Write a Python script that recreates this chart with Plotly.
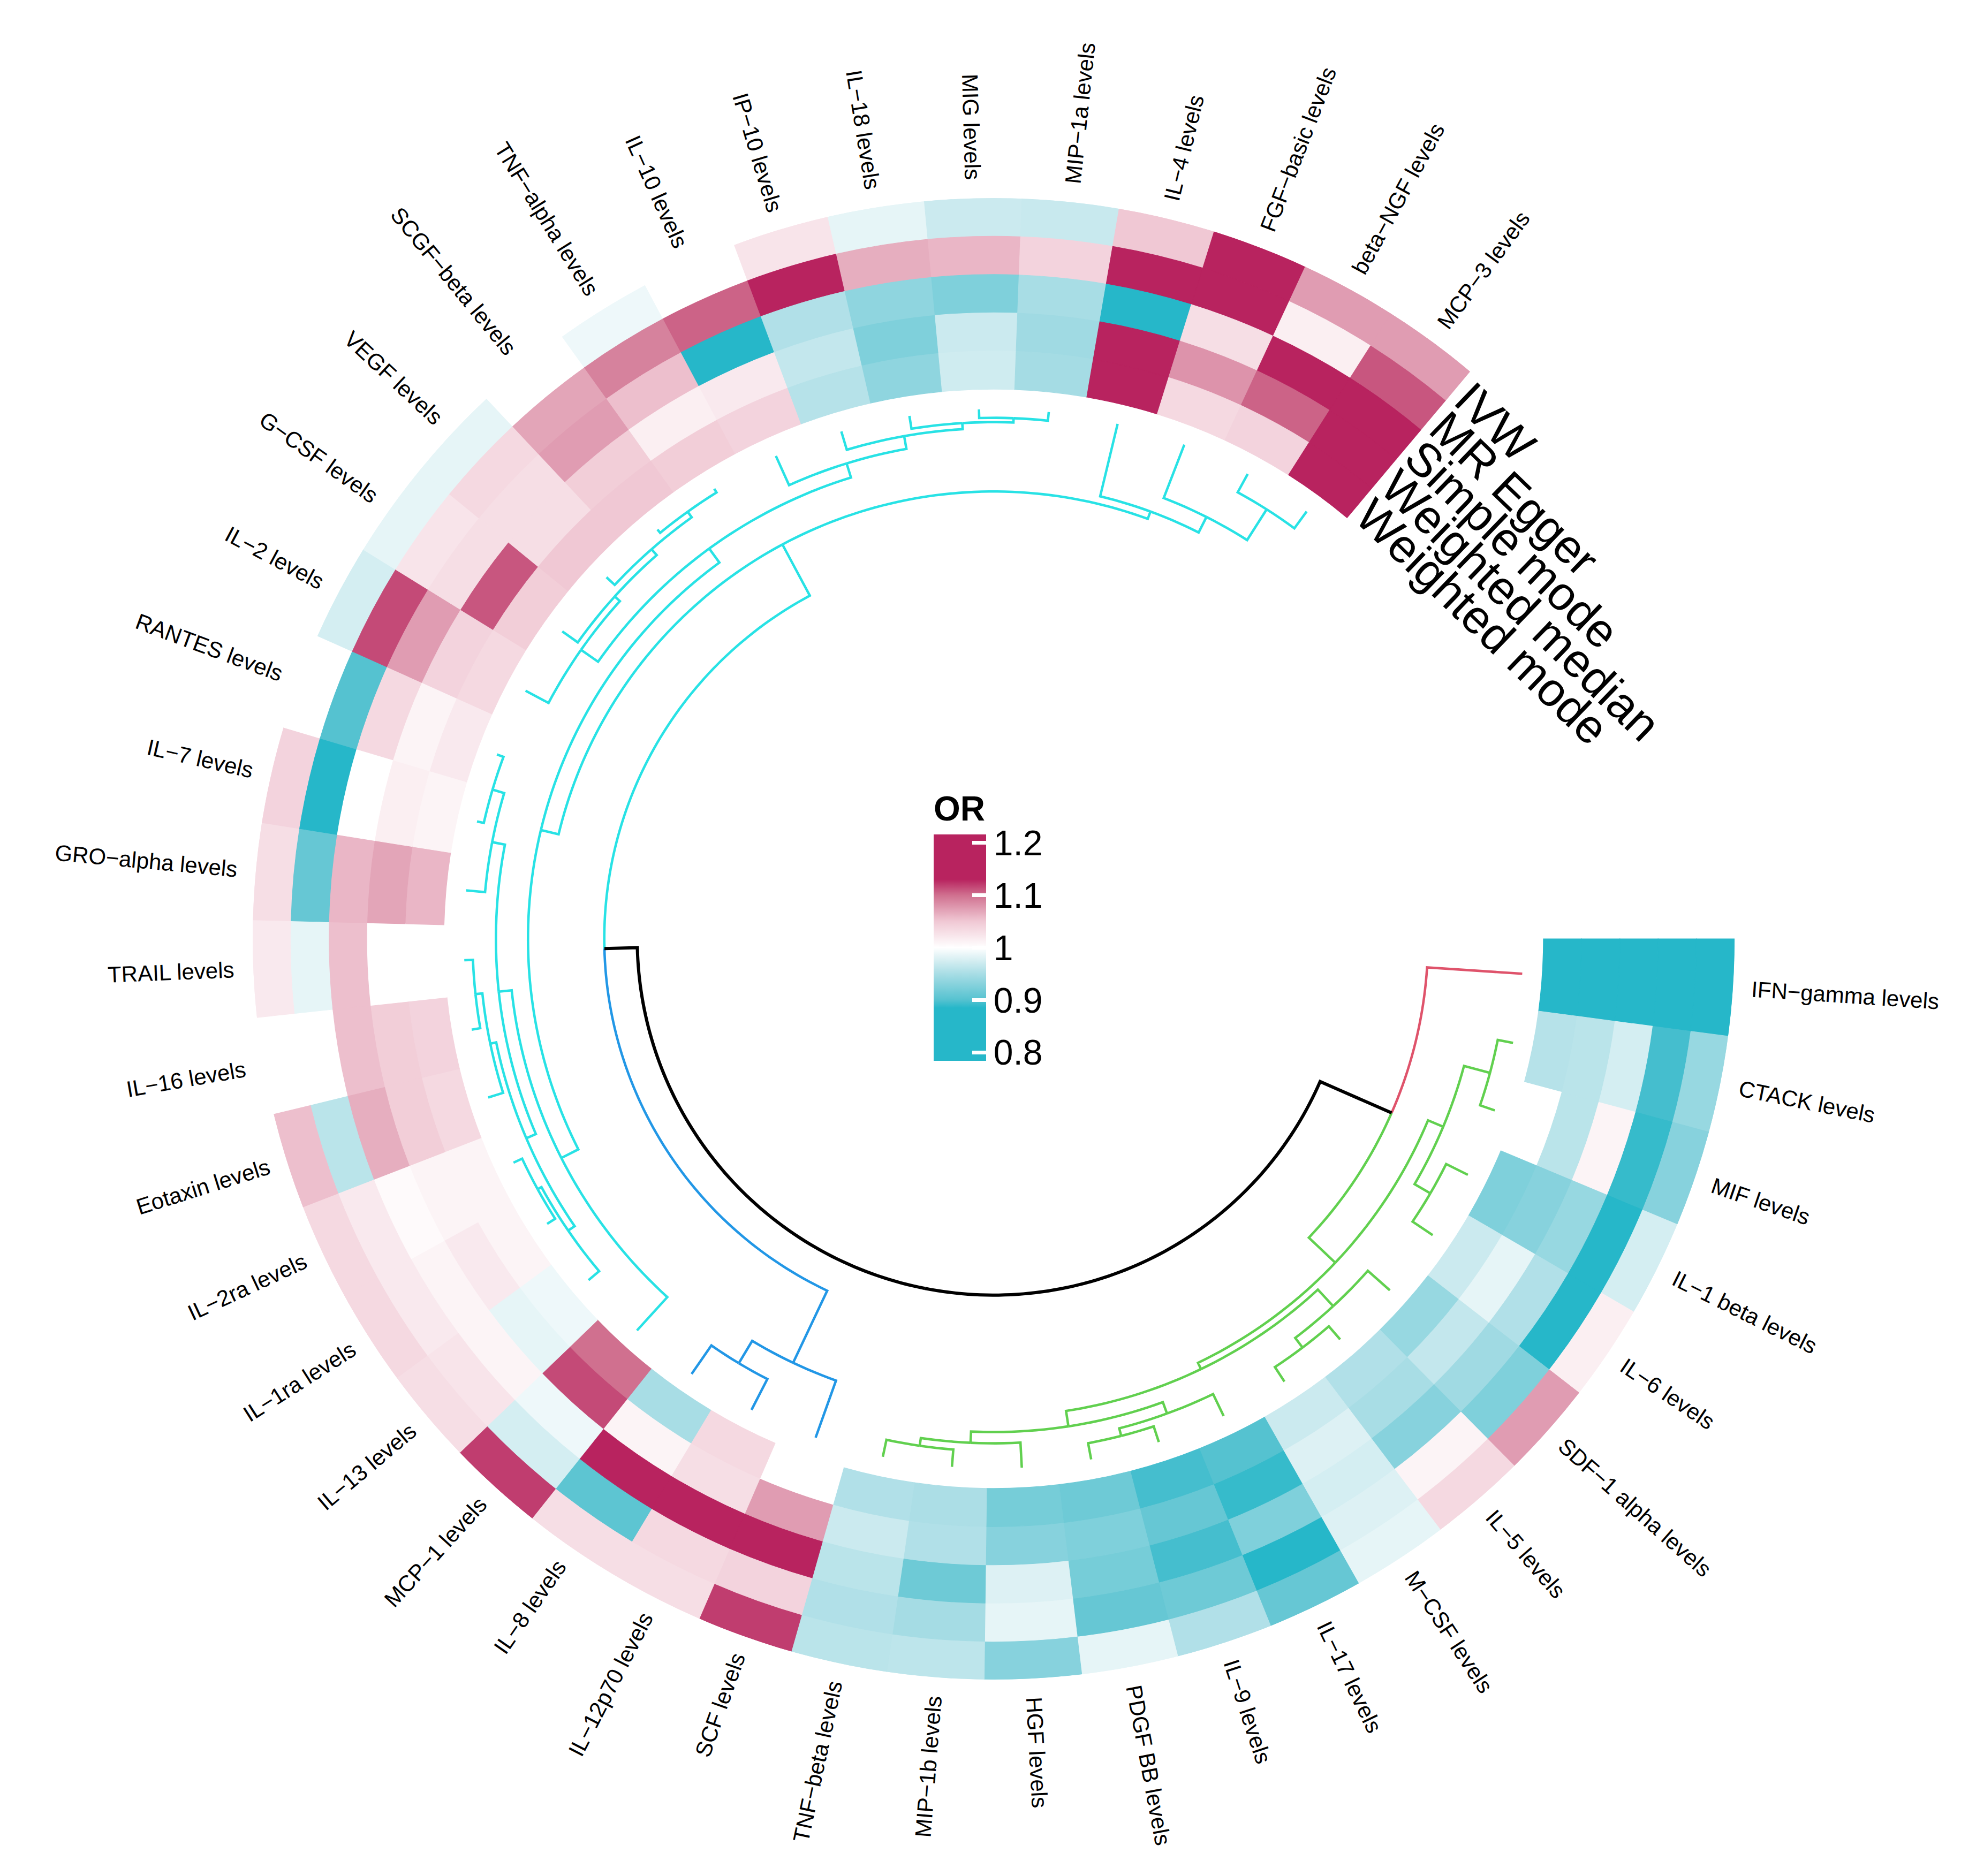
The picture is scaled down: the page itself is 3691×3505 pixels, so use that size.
import numpy as np
import plotly.graph_objects as go

# ---- data -------------------------------------------------------------
cytokines = ["IFN-gamma", "CTACK", "MIF", "IL-1 beta", "IL-6", "SDF-1 alpha", "IL-5", "M-CSF",
             "IL-17", "IL-9", "PDGF BB", "HGF", "MIP-1b", "TNF-beta", "SCF", "IL-12p70", "IL-8",
             "MCP-1", "IL-13", "IL-1ra", "IL-2ra", "Eotaxin", "IL-16", "TRAIL", "GRO-alpha", "IL-7",
             "RANTES", "IL-2", "G-CSF", "VEGF", "SCGF-beta", "TNF-alpha", "IL-10", "IP-10", "IL-18",
             "MIG", "MIP-1a", "IL-4", "FGF-basic", "beta-NGF", "MCP-3"]
methods = ["IVW", "MR Egger", "Simple mode", "Weighted median", "Weighted mode"]

or_ivw = [0.82, 0.94, 0.93, 0.975, 1.015, 1.075, 1.035, 0.985, 0.91, 0.955, 0.985, 0.93, 0.962, 0.96,
          1.12, 1.03, 1.03, 1.12, 1.03, 1.035, 1.035, 1.055, 1.0, 1.02, 1.03, 1.04, 1.0, 0.975, 0.985,
          0.985, 1.0, 0.99, 1.0, 1.025, 0.985, 0.97, 0.968, 1.05, 1.17, 1.075, 1.075]
or_egger = [0.75, 0.895, 0.89, 0.85, 0.86, 0.925, 1.01, 0.98, 0.86, 0.915, 0.91, 0.985, 0.948, 0.955,
            1.04, 1.035, 0.905, 0.975, 1.025, 1.02, 1.02, 0.96, 1.0, 0.985, 0.91, 0.85, 0.9, 1.115,
            1.025, 1.035, 1.07, 1.09, 1.105, 1.13, 1.065, 1.06, 1.04, 1.16, 1.16, 1.015, 1.11]
or_simple = [0.80, 0.975, 1.01, 0.94, 0.955, 0.945, 0.93, 0.975, 0.925, 0.895, 0.92, 0.98, 0.915, 0.96,
             1.16, 1.16, 1.16, 0.99, 1.01, 1.01, 1.005, 1.065, 1.055, 1.055, 1.06, 1.0, 1.035, 1.075,
             1.03, 1.03, 1.075, 1.055, 0.85, 0.955, 0.935, 0.925, 0.95, 0.85, 1.03, 1.13, 1.16]
or_wmedian = [0.83, 0.96, 0.96, 0.93, 0.985, 0.965, 0.95, 0.98, 0.89, 0.91, 0.925, 0.93, 0.955, 0.97,
              1.075, 1.03, 1.01, 1.115, 0.985, 1.02, 1.01, 1.045, 1.045, 1.0, 1.07, 1.015, 1.01, 1.04,
              1.11, 1.03, 1.045, 1.015, 1.02, 0.965, 0.925, 0.97, 0.945, 1.16, 1.08, 1.105, 1.16]
or_wmode = [0.81, 0.958, 1.0, 0.925, 0.97, 0.94, 0.955, 0.97, 0.9, 0.895, 0.915, 0.92, 0.952, 0.955,
            1.0, 1.035, 0.95, 1.10, 0.99, 1.01, 1.01, 1.035, 1.04, 1.0, 1.06, 1.01, 1.02, 1.035,
            1.045, 1.05, 1.05, 1.045, 1.04, 0.958, 0.935, 0.972, 0.948, 1.15, 1.035, 1.04, 1.15]

# dendrogram merges: (node, left child, right child, height)
merges = [
    ("A1", "CTACK", "MIF", 0.09), ("A2", "IL-1 beta", "IL-6", 0.14), ("A", "A1", "A2", 0.245),
    ("B1a", "IL-5", "M-CSF", 0.10), ("B1", "SDF-1 alpha", "B1a", 0.17),
    ("G", "IL-9", "PDGF BB", 0.095), ("F", "IL-17", "G", 0.14),
    ("Cb", "MIP-1b", "TNF-beta", 0.10), ("C", "HGF", "Cb", 0.145), ("B2", "F", "C", 0.21),
    ("B", "B1", "B2", 0.30), ("GR", "A", "B", 0.34), ("RG", "IFN-gamma", "GR", 0.55),
    ("BLa", "IL-12p70", "IL-8", 0.20), ("BL", "SCF", "BLa", 0.35),
    ("Q1", "IL-1ra", "IL-2ra", 0.055), ("Q2", "IL-13", "Q1", 0.08),
    ("Pd", "IL-16", "TRAIL", 0.05), ("Pe", "Eotaxin", "Pd", 0.09), ("Q3", "Q2", "Pe", 0.125),
    ("Pa", "IL-7", "RANTES", 0.04), ("Pb", "GRO-alpha", "Pa", 0.11), ("L1b", "Q3", "Pb", 0.185),
    ("L1", "MCP-1", "L1b", 0.26),
    ("N1", "SCGF-beta", "TNF-alpha", 0.025), ("N2", "VEGF", "N1", 0.065), ("X", "G-CSF", "N2", 0.11),
    ("N4", "IL-2", "X", 0.15),
    ("M0", "MIG", "MIP-1a", 0.05), ("M1", "IL-18", "M0", 0.075), ("M2", "IP-10", "M1", 0.11),
    ("M3", "IL-10", "M2", 0.185), ("M4", "N4", "M3", 0.27), ("L", "L1", "M4", 0.37),
    ("H1", "beta-NGF", "MCP-3", 0.12), ("H", "FGF-basic", "H1", 0.33), ("I", "IL-4", "H", 0.43),
    ("J", "L", "I", 0.475), ("CB", "BL", "J", 0.81), ("root", "RG", "CB", 1.0),
]
clusters = {"IFN-gamma": "#DF536B", "GR": "#61D04F", "BL": "#2297E6", "J": "#28E2E5"}

# ---- geometry / style ---------------------------------------------------
W_FIG, H_FIG = 3691, 3505
CX, CY, R_PX = 1848, 1746, 1384
X0, X1 = (CX - R_PX) / W_FIG, (CX + R_PX) / W_FIG
Y0, Y1 = (H_FIG - CY - R_PX) / H_FIG, (H_FIG - CY + R_PX) / H_FIG

GAP = 50.0
STEP = (360 - GAP) / len(cytokines)
R_OUT, R_IN = 1.0, 0.742
RING = (R_OUT - R_IN) / len(methods)
R_LEAF, R_ROOT = 0.715, 0.481
R_LAB = 1.025
FONT = "Liberation Sans, Arial, sans-serif"


def ang(x):
    return (x - 0.5) * STEP


def rad(h):
    return R_LEAF - h * (R_LEAF - R_ROOT)


# Helvetica widths (per 1000 em) for centring rotated labels
CW = {" ": 278, ".": 278, "-": 333, "\u2212": 584}
for chars, w in [("abdeghnopqu0123456789", 556), ("cksvxyzJ", 500), ("ijl", 222), ("ftI", 278),
                 ("r", 333), ("m", 833), ("w", 722), ("ABEKPSVXY", 667), ("CDHNRU", 722),
                 ("FTZ", 611), ("GOQ", 778), ("L", 556), ("M", 833), ("W", 944)]:
    for ch in chars:
        CW[ch] = w


def text_len(s, size):
    return sum(CW.get(ch, 556) for ch in s) * size / 1000 / R_PX


# colour scale (value -> colour)
CMIN, CMAX = 0.784, 1.216
stops = [(0.784, "#26B7C9"), (0.885, "#26B7C9"), (0.90, "#55C2D0"), (0.95, "#A8DDE5"),
         (0.98, "#DDF1F4"), (1.0, "#FFFFFF"), (1.05, "#F0C8D4"), (1.10, "#D0708F"),
         (1.13, "#B8235F"), (1.216, "#B8235F")]
cscale = [[(v - CMIN) / (CMAX - CMIN), c] for v, c in stops]

fig = go.Figure()

# ---- heatmap rings ------------------------------------------------------
series = [or_ivw, or_egger, or_simple, or_wmedian, or_wmode]
theta, base, rlen, cval = [], [], [], []
for k, vals in enumerate(series):
    for i, v in enumerate(vals):
        theta.append(ang(i + 1))
        base.append(R_OUT - (k + 1) * RING)
        rlen.append(RING)
        cval.append(v)

fig.add_trace(go.Barpolar(
    r=rlen, theta=theta, base=base, width=[STEP] * len(theta),
    marker=dict(color=cval, colorscale=cscale, cmin=CMIN, cmax=CMAX,
                line=dict(color=cval, colorscale=cscale, cmin=CMIN, cmax=CMAX, width=1.2),
                colorbar=dict(
                    title=dict(text="<b>OR</b>", side="top", font=dict(size=64, family=FONT, color="black")),
                    x=1736 / W_FIG, xanchor="left", y=1 - 1724 / H_FIG, yanchor="middle",
                    len=500, lenmode="pixels", thickness=98, thicknessmode="pixels",
                    xpad=0, ypad=0, outlinewidth=0,
                    tickvals=[0.8, 0.9, 1.0, 1.1, 1.2], ticktext=["0.8", "0.9", "1", "1.1", "1.2"],
                    ticks="inside", ticklen=26, tickwidth=7, tickcolor="white",
                    tickfont=dict(size=66, family=FONT, color="black"))),
    showlegend=False, hoverinfo="skip"))

# ---- dendrogram -----------------------------------------------------------
pos = {name: i + 1 for i, name in enumerate(cytokines)}
height = {name: 0.0 for name in cytokines}
for n, a, b, h in merges:
    pos[n] = (pos[a] + pos[b]) / 2
    height[n] = h

col = {"root": "black"}
for n, a, b, h in reversed(merges):
    for c in (a, b):
        col[c] = clusters.get(c, col[n])

segs = {}
for n, a, b, h in merges:
    for c in (a, b):
        t0, t1 = ang(pos[n]), ang(pos[c])
        t = np.linspace(t0, t1, max(2, int(abs(t1 - t0)) + 2))
        rr = [rad(h)] * len(t) + [rad(height[c]), None]
        tt = list(t) + [t1, None]
        s = segs.setdefault(col[c], ([], []))
        s[0].extend(rr)
        s[1].extend(tt)

for c, (rr, tt) in segs.items():
    fig.add_trace(go.Scatterpolar(r=rr, theta=tt, mode="lines",
                                  line=dict(color=c, width=6 if c == "black" else 4.6),
                                  showlegend=False, hoverinfo="skip"))

# invisible cartesian trace so annotations can use the x/y axes
fig.add_trace(go.Scatter(x=[None], y=[None], showlegend=False, hoverinfo="skip"))

# ---- labels -----------------------------------------------------------------
annotations = []
LAB_SIZE = 42
for i, name in enumerate(cytokines):
    txt = name.replace("-", "\u2212") + " levels"
    a = ang(i + 1)
    rc = R_LAB + text_len(txt, LAB_SIZE) / 2
    ca, sa = np.cos(np.radians(a)), np.sin(np.radians(a))
    rot = a if ca >= 0 else a - 180
    if rot > 180:
        rot -= 360
    annotations.append(dict(x=rc * ca, y=-rc * sa, xref="x", yref="y", text=txt, showarrow=False,
                            textangle=rot, xanchor="center", yanchor="middle",
                            font=dict(size=LAB_SIZE, family=FONT, color="black")))

TRK_SIZE = 88
t_start, t_rot = 310.6, 44.0
for k, name in enumerate(methods):
    r = R_OUT - (k + 0.5) * RING
    px, py = r * np.cos(np.radians(t_start)), -r * np.sin(np.radians(t_start))
    half = text_len(name, TRK_SIZE) / 2
    dx, dy = np.cos(np.radians(t_rot)), -np.sin(np.radians(t_rot))
    annotations.append(dict(x=px + half * dx, y=py + half * dy, xref="x", yref="y", text=name,
                            showarrow=False, textangle=t_rot, xanchor="center", yanchor="middle",
                            font=dict(size=TRK_SIZE, family=FONT, color="black")))

# cartesian axes span the whole figure with the same scale as the polar disc
fig.update_layout(
    width=W_FIG, height=H_FIG, margin=dict(l=0, r=0, t=0, b=0),
    paper_bgcolor="white", plot_bgcolor="white",
    polar=dict(domain=dict(x=[X0, X1], y=[Y0, Y1]), bgcolor="white", hole=0, bargap=0,
               angularaxis=dict(direction="clockwise", rotation=0, visible=False),
               radialaxis=dict(range=[0, 1], visible=False)),
    xaxis=dict(domain=[0, 1], range=[-CX / R_PX, (W_FIG - CX) / R_PX], visible=False),
    yaxis=dict(domain=[0, 1], range=[-(H_FIG - CY) / R_PX, CY / R_PX], visible=False),
    annotations=annotations,
)

fig.write_html("out.html")
